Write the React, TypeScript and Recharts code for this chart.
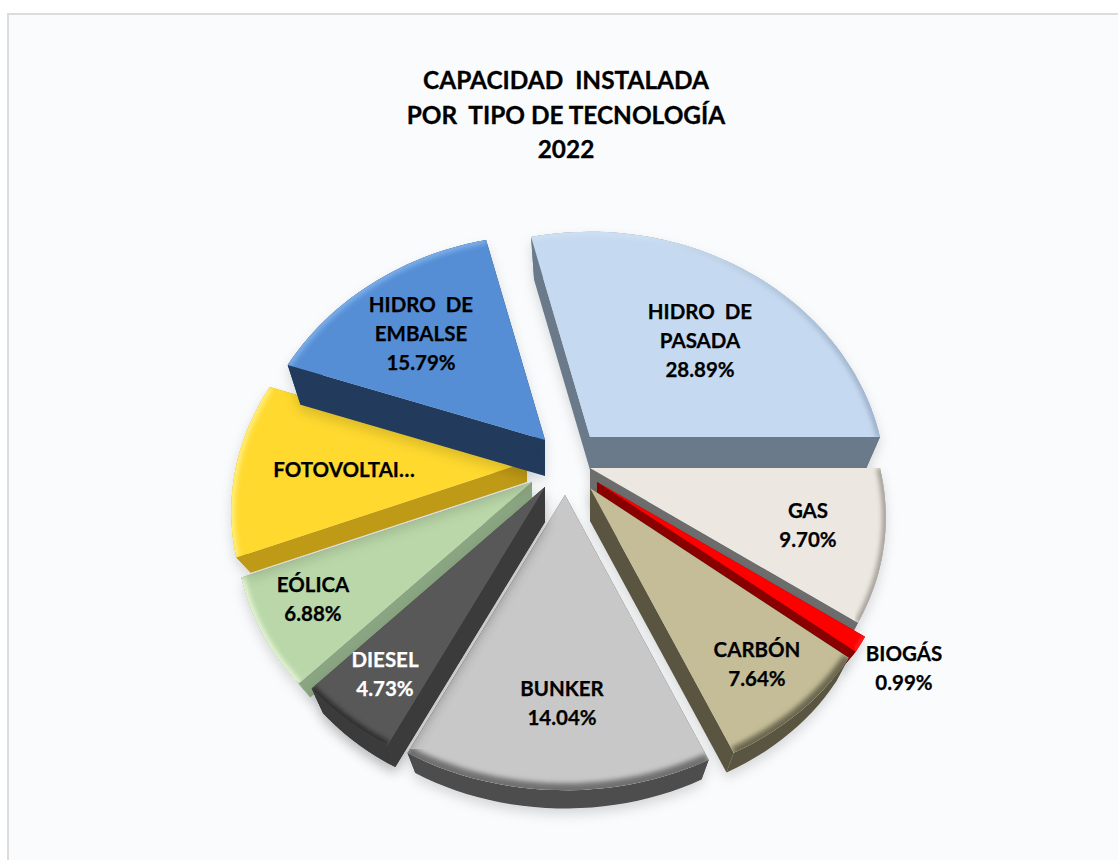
import { PieChart, Pie } from "recharts";

const names = ["HIDRO DE PASADA", "GAS", "BIOGÁS", "CARBÓN", "BUNKER", "DIESEL", "EÓLICA", "FOTOVOLTAICA", "HIDRO DE EMBALSE"];
const shares = [28.89, 9.7, 0.99, 7.64, 14.04, 4.73, 6.88, 11.32, 15.79];
const titleLines = ["CAPACIDAD  INSTALADA", "POR  TIPO DE TECNOLOGÍA", "2022"];

// wrapped label text as the original shows it
const labelText = [["HIDRO  DE", "PASADA"], ["GAS"], ["BIOGÁS"], ["CARBÓN"], ["BUNKER"], ["DIESEL"], ["EÓLICA"], ["FOTOVOLTAI…"], ["HIDRO  DE", "EMBALSE"]];
const showPercent = [true, true, true, true, true, true, true, false, true];

// styling per slice, same order as names
const topColors = ["#c5d9f0", "#ece8e1", "#ff0000", "#c4bd97", "#c8c8c8", "#595959", "#b9d7a8", "#ffd92f", "#558ed5"];
const wallColors = ["#6b7a8a", "#6d6d6d", "#8a0000", "#5a5540", "#4d4d4d", "#3b3b3b", "#8aa581", "#bf9a14", "#203a5c"];
const bevelColors = ["url(#pasada-rim)", "#a09c94", "#ff3030", "#6b6650", "#707070", "#2e2e2e", "#e6f5d8", "#fff080", "#7fb0ea"];
const bevelWidths = [7, 7, 4, 12, 14, 9, 7, 7, 7];
const wallDepths = [33, 33, 24, 33, 33, 35, 24, 20, 36];
const apexOffsets = [[24, -29], [24, 2], [31, 16], [24, 22], [-1, 29], [-21, 21], [-34, 16], [-39, -4], [-21, -26]];
const labelCenters = [[700, 312], [808, 511], [904, 654], [757, 650], [562, 689], [385, 660], [313, 585], [344, 470], [421, 305]];
const labelColors = ["#000", "#000", "#000", "#000", "#000", "#fff", "#000", "#000", "#000"];

const SHRINK = 0.95;
const font = "Lato, 'Open Sans', sans-serif";

const tableData = names.map((name, i) => ({ name, value: shares[i] }));

// tilted plane with some perspective, point relative to the slice apex
function project(angle: number, r: number) {
  const rad = (angle * Math.PI) / 180;
  const u = r * Math.cos(rad);
  const v = -r * Math.sin(rad);
  return [u / (1 - 0.00068 * v), (0.835 * v) / (1 - 0.00062 * v)];
}

function toPath(points: number[][], close = true) {
  return points.map((p, i) => `${i ? "L" : "M"}${p[0].toFixed(1)},${p[1].toFixed(1)}`).join(" ") + (close ? " Z" : "");
}

function Slice3D(props: any) {
  const { cx, cy, outerRadius, startAngle, endAngle, name } = props;
  const i = names.indexOf(name);
  const ax = cx + apexOffsets[i][0];
  const ay = cy + apexOffsets[i][1];
  const depth = wallDepths[i];
  const steps = Math.max(2, Math.ceil(Math.abs(startAngle - endAngle) / 2));
  const rel: number[][] = [];
  for (let s = 0; s <= steps; s++) {
    rel.push(project(startAngle + ((endAngle - startAngle) * s) / steps, outerRadius));
  }
  const top = rel.map((p) => [ax + p[0], ay + p[1]]);
  const low = rel.map((p) => [ax + p[0] * SHRINK, ay + p[1] * SHRINK + depth]);
  const apexTop = [ax, ay];
  const apexLow = [ax, ay + depth];
  const wall = wallColors[i];
  const clipId = `top-clip-${i}`;
  return (
    <g filter="url(#soft-shadow)">
      <path d={toPath([...top, ...[...low].reverse()])} fill={wall} />
      <path d={toPath([apexTop, top[0], low[0], apexLow])} fill={wall} />
      <path d={toPath([apexTop, top[top.length - 1], low[low.length - 1], apexLow])} fill={wall} />
      <clipPath id={clipId}>
        <path d={toPath([apexTop, ...top])} />
      </clipPath>
      <path d={toPath([apexTop, ...top])} fill={topColors[i]} />
      <g clipPath={`url(#${clipId})`}>
        <path d={toPath(top, false)} fill="none" stroke={bevelColors[i]} strokeWidth={bevelWidths[i]} filter="url(#bevel-blur)" />
      </g>
    </g>
  );
}

function DieselOnly(props: any) {
  // diesel sits over the wall of its neighbour, so it is drawn once more
  return props.name === "DIESEL" ? <Slice3D {...props} /> : <g />;
}

function SliceLabel(props: any) {
  const i = names.indexOf(props.name);
  const [x, y] = labelCenters[i];
  const lines = showPercent[i] ? [...labelText[i], `${shares[i].toFixed(2)}%`] : labelText[i];
  return (
    <text x={x} y={y + 7} textAnchor="middle" fontFamily={font} fontWeight={700} fontSize={20.5} fill={labelColors[i]} stroke={labelColors[i]} strokeWidth={0.25} style={{ whiteSpace: "pre" }}>
      {lines.map((line, n) => (
        <tspan key={n} x={x} dy={n ? 29 : 0}>
          {line}
        </tspan>
      ))}
    </text>
  );
}

export default function App() {
  return (
    <div style={{ position: "absolute", left: 0, top: 0, width: 1118, height: 860, background: "#fff", overflow: "hidden" }}>
      <div style={{ position: "absolute", left: 7, top: 13, width: 1111, height: 847, background: "#f9fbfd", borderLeft: "2px solid #dcdcdc", borderTop: "2px solid #dcdcdc", boxSizing: "border-box" }} />
      <div style={{ position: "absolute", left: 266, width: 600, top: 63, textAlign: "center", fontFamily: font, fontWeight: 700, fontSize: 24.4, lineHeight: "34.5px", color: "#000", whiteSpace: "pre", WebkitTextStroke: "0.3px #000" }}>
        {titleLines.map((line) => (
          <div key={line}>{line}</div>
        ))}
      </div>
      <div style={{ position: "absolute", left: 0, top: 0 }}>
        <PieChart width={1118} height={860} margin={{ top: 0, right: 0, bottom: 0, left: 0 }}>
          <defs>
            <filter id="soft-shadow" x="-20%" y="-20%" width="140%" height="140%">
              <feDropShadow dx="0" dy="6" stdDeviation="6" floodColor="#000" floodOpacity="0.14" />
            </filter>
            <filter id="bevel-blur" x="-10%" y="-10%" width="120%" height="120%">
              <feGaussianBlur stdDeviation="2.5" />
            </filter>
            <linearGradient id="pasada-rim" gradientUnits="userSpaceOnUse" x1="640" y1="0" x2="880" y2="0">
              <stop offset="0%" stopColor="#cfe0f2" />
              <stop offset="100%" stopColor="#98aec8" />
            </linearGradient>
          </defs>
          <Pie
            data={tableData}
            dataKey="value"
            nameKey="name"
            cx={566}
            cy={466}
            outerRadius={290}
            startAngle={104}
            endAngle={-256}
            stroke="none"
            isAnimationActive={false}
            shape={Slice3D}
            label={false}
            labelLine={false}
          />
          <Pie
            data={tableData}
            dataKey="value"
            nameKey="name"
            cx={566}
            cy={466}
            outerRadius={290}
            startAngle={104}
            endAngle={-256}
            stroke="none"
            isAnimationActive={false}
            shape={DieselOnly}
            label={SliceLabel}
            labelLine={false}
          />
        </PieChart>
      </div>
    </div>
  );
}
